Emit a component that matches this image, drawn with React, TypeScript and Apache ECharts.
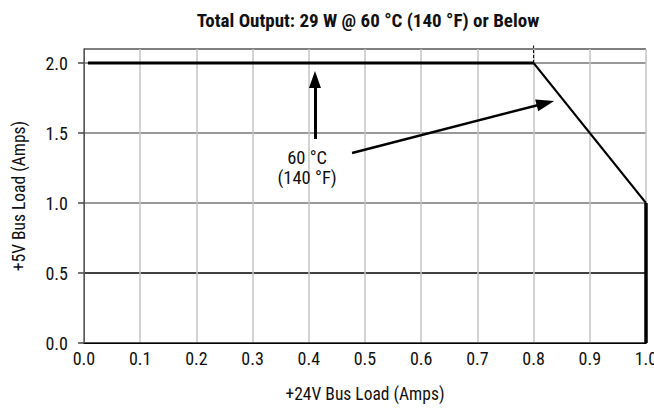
import React, { useEffect, useRef } from "react";
import * as echarts from "echarts";

const FONT = "'Roboto Condensed', 'Liberation Sans Narrow', sans-serif";

const titleText = "Total Output: 29 W @ 60 °C (140 °F) or Below";
const xName = "+24V Bus Load (Amps)";
const yName = "+5V Bus Load (Amps)";

// derating curve segments
const flatSegment: [number, number][] = [
  [0.007, 2.0],
  [0.8, 2.0],
];
const slopeSegment: [number, number][] = [
  [0.8, 2.0],
  [1.0, 1.0],
];
const dropSegment: [number, number][] = [
  [1.0, 1.0],
  [1.0, 0.0],
];
const cornerTick: [number, number][] = [
  [0.8, 2.0],
  [0.8, 2.125],
];

// annotation arrows [from, to]
const arrowUp: [number, number][] = [
  [0.411, 1.457],
  [0.411, 1.882],
];
const arrowSlope: [number, number][] = [
  [0.477, 1.357],
  [0.821, 1.713],
];
const annotationLines = ["60 °C", "(140 °F)"];
const annotationPos: [number, number][] = [
  [0.397, 1.321],
  [0.397, 1.179],
];

export default function App() {
  const ref = useRef<HTMLDivElement>(null);
  useEffect(() => {
    if (!ref.current) return;
    const chart = echarts.init(ref.current, undefined, { renderer: "svg" });
    const arrowLine = (pts: [number, number][], width: number, size: number[]) => ({
      silent: true,
      symbol: ["none", "triangle"],
      symbolSize: size,
      label: { show: false },
      lineStyle: { color: "#000", width, type: "solid" },
      data: [[{ coord: pts[0] }, { coord: pts[1] }]],
    });
    chart.setOption({
      animation: false,
      backgroundColor: "#fff",
      textStyle: { fontFamily: FONT },
      title: {
        text: titleText,
        left: 363,
        textAlign: "center",
        top: 6,
        textStyle: { fontFamily: FONT, fontSize: 19, fontWeight: "bold", color: "#111" },
      },
      grid: { left: 84, right: 8, top: 49, bottom: 65, outerBoundsMode: "none", containLabel: false },
      xAxis: [
        {
          type: "value",
          min: 0,
          max: 1,
          interval: 0.1,
          name: xName,
          nameLocation: "middle",
          nameGap: 42,
          nameTextStyle: { fontFamily: FONT, fontSize: 17.5, color: "#111" },
          axisLine: { show: true, onZero: false, lineStyle: { color: "#555", width: 2 } },
          axisTick: { show: false },
          axisLabel: {
            margin: 6,
            fontFamily: FONT,
            fontSize: 18,
            color: "#111",
            formatter: (v: number) => v.toFixed(1),
          },
          splitLine: { show: true, lineStyle: { color: "#c4c4c4", width: 1.5 } },
        },
        {
          type: "value",
          position: "top",
          min: 0,
          max: 1,
          axisLine: { show: true, lineStyle: { color: "#000", width: 1 } },
          axisTick: { show: false },
          axisLabel: { show: false },
          splitLine: { show: false },
        },
      ],
      yAxis: [
        {
          type: "value",
          min: 0,
          max: 2.1,
          interval: 0.5,
          name: yName,
          nameLocation: "middle",
          nameGap: 56,
          nameTextStyle: { fontFamily: FONT, fontSize: 17.5, color: "#111" },
          axisLine: { show: true, onZero: false, lineStyle: { color: "#000", width: 1 } },
          axisTick: { show: true, length: 6, lineStyle: { color: "#444", width: 1.5 } },
          axisLabel: {
            margin: 16,
            fontFamily: FONT,
            fontSize: 18,
            color: "#111",
            formatter: (v: number) => v.toFixed(1),
          },
          splitLine: {
            show: true,
            lineStyle: { color: ["#555", "#000", "#777", "#777", "#777"], width: 1.5 },
          },
        },
        {
          type: "value",
          position: "right",
          min: 0,
          max: 2.1,
          axisLine: { show: true, lineStyle: { color: "#777", width: 1.5 } },
          axisTick: { show: false },
          axisLabel: { show: false },
          splitLine: { show: false },
        },
      ],
      series: [
        {
          type: "line",
          data: flatSegment,
          showSymbol: false,
          symbol: "none",
          lineStyle: { color: "#000", width: 3 },
          markLine: arrowLine(arrowUp, 3, [12, 17]),
          z: 5,
        },
        {
          type: "line",
          data: slopeSegment,
          showSymbol: false,
          symbol: "none",
          lineStyle: { color: "#000", width: 2 },
          markLine: arrowLine(arrowSlope, 2.5, [12, 18]),
          z: 5,
        },
        {
          type: "line",
          data: dropSegment,
          showSymbol: false,
          symbol: "none",
          clip: false,
          lineStyle: { color: "#000", width: 3.5 },
          z: 5,
        },
        {
          type: "line",
          data: cornerTick,
          showSymbol: false,
          symbol: "none",
          clip: false,
          lineStyle: { color: "#000", width: 1, type: [3, 2] },
          z: 5,
        },
        {
          type: "scatter",
          data: annotationPos.map((p, i) => ({ value: p, name: annotationLines[i] })),
          symbolSize: 0,
          silent: true,
          itemStyle: { opacity: 1 },
          label: {
            show: true,
            position: "inside",
            formatter: (p: any) => p.name,
            fontFamily: FONT,
            fontSize: 18.5,
            lineHeight: 20,
            color: "#111",
            align: "center",
          },
          z: 6,
        },
      ],
    });
    return () => chart.dispose();
  }, []);
  return <div ref={ref} style={{ position: "fixed", left: 0, top: 0, width: 654, height: 408 }} />;
}
